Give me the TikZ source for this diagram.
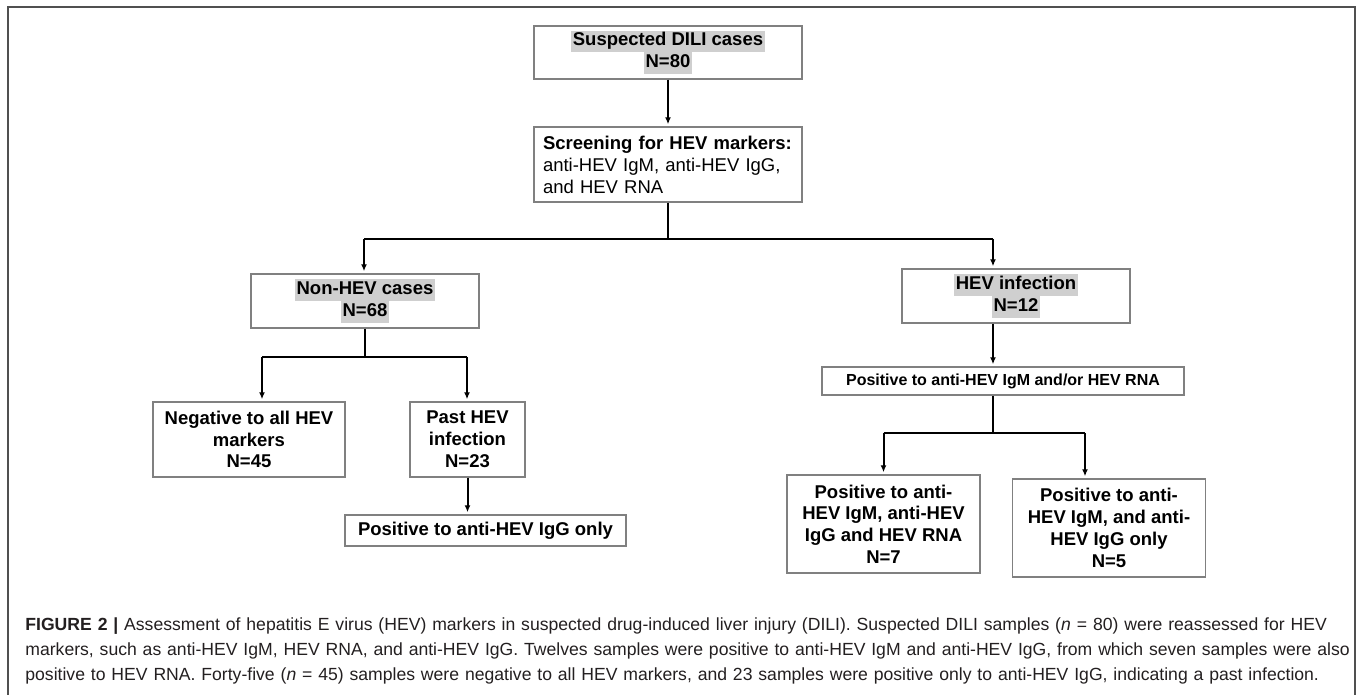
\documentclass[tikz,border=0pt]{standalone}
\usepackage{fontspec}
\setmainfont{Liberation Sans}
\usetikzlibrary{arrows.meta}
\definecolor{boxGray}{HTML}{808080}
\definecolor{markGray}{HTML}{CFCFCF}
\definecolor{frameGray}{HTML}{505050}
\definecolor{captionInk}{HTML}{231F20}
\newcommand{\marked}[1]{{\setlength{\fboxsep}{0pt}\colorbox{markGray}{\strut\hspace{0.8pt}#1\hspace{0.8pt}}}}

\begin{document}
\begin{tikzpicture}[x=0.5pt, y=-0.5pt,
    box/.style={draw=boxGray, line width=0.7pt, align=center, inner sep=2pt,
        font=\fontsize{9.25}{10.9}\selectfont\bfseries},
    arr/.style={-{Latex[length=3.5pt,width=3pt]}, line width=1pt, shorten >=1pt},
    link/.style={line width=1pt}]
    \useasboundingbox (0,0) rectangle (1357,695);
    \draw[frameGray, line width=1pt] (8,695) -- (8,7) -- (1355,7) -- (1355,695);

    % top of the tree
    \node[box, minimum width=134pt, minimum height=26.5pt] (dili) at (668,52.5)
        {\marked{Suspected DILI cases}\\\marked{N=80}};
    \node[box, align=left, text width=125pt, inner xsep=4.5pt, minimum height=37.5pt,
        font=\fontsize{9.25}{11}\selectfont] (screen) at (668,164.5)
        {\textbf{Screening for HEV markers:}\\anti-HEV IgM, anti-HEV IgG,\\and HEV RNA};

    % left branch
    \node[box, minimum width=114pt, minimum height=27pt] (nonhev) at (365,301)
        {\marked{Non-HEV cases}\\\marked{N=68}};
    \node[box, minimum width=96pt, minimum height=37.5pt] (neg) at (249,439.5)
        {Negative to all HEV\\markers\\N=45};
    \node[box, minimum width=57.5pt, minimum height=37.5pt] (past) at (467.5,439.5)
        {Past HEV\\infection\\N=23};
    \node[box, minimum width=140.5pt, minimum height=15.5pt] (igg) at (485.5,530.5)
        {Positive to anti-HEV IgG only};

    % right branch
    \node[box, minimum width=114pt, minimum height=27pt] (hev) at (1016,296)
        {\marked{HEV infection}\\\marked{N=12}};
    \node[box, minimum width=181pt, minimum height=14pt,
        font=\fontsize{8}{9.6}\selectfont\bfseries] (posor) at (1003,381)
        {Positive to anti-HEV IgM and/or HEV RNA};
    \node[box, minimum width=96.5pt, minimum height=49pt] (seven) at (883.5,524)
        {Positive to anti-\\HEV IgM, anti-HEV\\IgG and HEV RNA\\N=7};
    \node[box, minimum width=96.5pt, minimum height=49pt] (five) at (1109,528)
        {Positive to anti-\\HEV IgM, and anti-\\HEV IgG only\\N=5};

    % connectors
    \coordinate (topL) at (364,239);
    \coordinate (topR) at (993,239);
    \coordinate (midL) at (262,357);
    \coordinate (midR) at (467,357);
    \coordinate (lowL) at (883.5,433);
    \coordinate (lowR) at (1085,433);
    \draw[arr] (dili) -- (screen);
    \draw[link] (screen.south) -- (screen.south |- topL);
    \draw[link] (topL) -- (topR);
    \draw[arr] (topL) -- (topL |- nonhev.north);
    \draw[arr] (topR) -- (topR |- hev.north);
    \draw[link] (nonhev.south) -- (nonhev.south |- midL);
    \draw[link] (midL) -- (midR);
    \draw[arr] (midL) -- (midL |- neg.north);
    \draw[arr] (midR) -- (midR |- past.north);
    \draw[arr] (past.south) -- (past.south |- igg.north);
    \draw[arr] (hev.south -| topR) -- (topR |- posor.north);
    \draw[link] (posor.south -| topR) -- (topR |- lowL);
    \draw[link] (lowL) -- (lowR);
    \draw[arr] (lowL) -- (seven.north);
    \draw[arr] (lowR) -- (lowR |- five.north);

    % caption
    \node[anchor=north west, inner sep=0pt, align=left, text width=665pt, text=captionInk,
        font=\fontsize{8.8}{12.5}\selectfont] (caption) at (25,617)
        {\textbf{FIGURE 2 |} Assessment of hepatitis E virus (HEV) markers in suspected drug-induced liver injury (DILI). Suspected DILI samples (\textit{n} = 80) were reassessed for HEV\\
        markers, such as anti-HEV IgM, HEV RNA, and anti-HEV IgG. Twelves samples were positive to anti-HEV IgM and anti-HEV IgG, from which seven samples were also\\
        positive to HEV RNA. Forty-five (\textit{n} = 45) samples were negative to all HEV markers, and 23 samples were positive only to anti-HEV IgG, indicating a past infection.};
\end{tikzpicture}
\end{document}
